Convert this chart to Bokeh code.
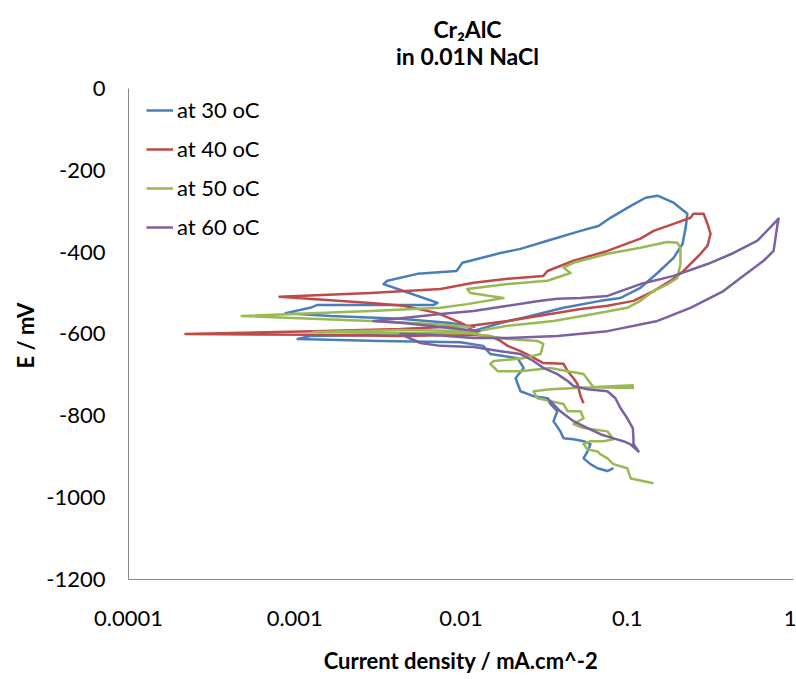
from bokeh.plotting import figure
from bokeh.models import (Range1d, FixedTicker, CustomJSTickFormatter, Legend,
                          LegendItem, Label, Title)
from bokeh.embed import file_html
from bokeh.resources import INLINE

# ---- data (current density in mA/cm^2, potential in mV) ----
blue_i = [0.0826, 0.0760, 0.0662, 0.0601, 0.0546, 0.0577, 0.0601, 0.0546, 0.0475, 0.0414,
          0.0396, 0.0360, 0.0380, 0.0345, 0.0331, 0.0273, 0.0228, 0.0213, 0.0238, 0.0219,
          0.0150, 0.0136, 0.00993, 0.00328, 0.00104, 0.00124, 0.00432, 0.0114, 0.0173, 0.0262,
          0.0414, 0.0690, 0.0910, 0.120, 0.152, 0.190, 0.215, 0.224, 0.230, 0.190,
          0.152, 0.129, 0.105, 0.0792, 0.0671, 0.0524, 0.0331, 0.0228, 0.0173, 0.0102,
          0.00940, 0.00547, 0.00361, 0.00342, 0.00451, 0.00723, 0.00684, 0.00137, 0.00124, 0.000879,
          0.00164, 0.00432, 0.00865, 0.0122]
blue_E = [-928, -935, -928, -918, -904, -887, -869, -862, -857, -855,
          -838, -813, -789, -771, -757, -752, -740, -708, -683, -659,
          -649, -629, -620, -617, -612, -605, -602, -595, -573, -556,
          -536, -519, -512, -487, -451, -414, -380, -343, -306, -279,
          -262, -267, -287, -316, -336, -348, -372, -392, -402, -426,
          -446, -453, -470, -478, -495, -524, -529, -529, -536, -549,
          -556, -563, -573, -583]

red_i = [0.0546, 0.0524, 0.0502, 0.0475, 0.0438, 0.0414, 0.0313, 0.0262, 0.0228, 0.0191,
         0.0173, 0.0150, 0.0114, 0.00432, 0.00130, 0.000220, 0.00130, 0.00432, 0.0114, 0.0191,
         0.0345, 0.0524, 0.0760, 0.109, 0.144, 0.190, 0.218, 0.276, 0.304, 0.317,
         0.304, 0.288, 0.250, 0.240, 0.190, 0.144, 0.120, 0.0760, 0.0475, 0.0331,
         0.0313, 0.0191, 0.0119, 0.00753, 0.00286, 0.000809, 0.00286, 0.00451, 0.00723, 0.0104,
         0.0127]
red_E = [-769, -752, -722, -708, -691, -673, -671, -654, -642, -629,
         -617, -605, -602, -605, -602, -600, -593, -588, -580, -568,
         -551, -539, -531, -519, -495, -465, -446, -404, -384, -355,
         -331, -306, -306, -316, -331, -348, -367, -397, -421, -446,
         -458, -465, -475, -490, -500, -509, -524, -531, -549, -576,
         -600]

green_i = [0.144, 0.105, 0.100, 0.0826, 0.0760, 0.0690, 0.0662, 0.0577, 0.0546, 0.0601,
           0.0719, 0.0826, 0.0760, 0.0546, 0.0475, 0.0546, 0.0524, 0.0438, 0.0414, 0.0345,
           0.0288, 0.0273, 0.0345, 0.108, 0.108, 0.0627, 0.0546, 0.0438, 0.0345, 0.0228,
           0.0166, 0.0150, 0.0157, 0.0238, 0.0301, 0.0313, 0.0288, 0.0191, 0.0144, 0.0114,
           0.00432, 0.00130, 0.00432, 0.0126, 0.0191, 0.0360, 0.0627, 0.100, 0.120, 0.144,
           0.175, 0.200, 0.209, 0.209, 0.200, 0.175, 0.165, 0.120, 0.0760, 0.0475,
           0.0414, 0.0456, 0.0331, 0.0191, 0.0109, 0.0114, 0.0180, 0.0109, 0.00753, 0.00286,
           0.000479, 0.00286, 0.00723, 0.0114]
green_E = [-965, -953, -928, -918, -904, -894, -887, -882, -869, -862,
           -862, -857, -838, -830, -820, -806, -789, -789, -771, -764,
           -757, -740, -735, -725, -732, -730, -698, -691, -683, -691,
           -691, -673, -666, -659, -649, -624, -617, -612, -605, -598,
           -598, -595, -590, -593, -580, -568, -551, -536, -519, -495,
           -478, -463, -429, -389, -377, -375, -377, -389, -404, -426,
           -438, -451, -470, -478, -490, -500, -512, -527, -536, -544,
           -556, -568, -576, -583]

purple_i = [0.0331, 0.0396, 0.0475, 0.0577, 0.0690, 0.0826, 0.0948, 0.104, 0.117, 0.109,
            0.109, 0.108, 0.100, 0.0910, 0.0849, 0.0760, 0.0577, 0.0475, 0.0438, 0.0380,
            0.0313, 0.0273, 0.0228, 0.0173, 0.0119, 0.00753, 0.00570, 0.00432, 0.00657, 0.0119,
            0.0191, 0.0380, 0.0760, 0.152, 0.240, 0.379, 0.480, 0.661, 0.759, 0.802,
            0.813, 0.759, 0.607, 0.436, 0.304, 0.190, 0.120, 0.0760, 0.0524, 0.0380,
            0.0301, 0.0191, 0.0119, 0.00753, 0.00451, 0.00298, 0.00451, 0.00753, 0.0131]
purple_E = [-757, -789, -813, -830, -845, -855, -862, -869, -887, -869,
            -855, -830, -806, -781, -757, -740, -735, -727, -715, -698,
            -683, -666, -649, -642, -632, -629, -622, -600, -602, -610,
            -610, -605, -593, -568, -536, -495, -463, -421, -397, -331,
            -318, -331, -372, -402, -429, -458, -478, -507, -512, -514,
            -519, -531, -544, -551, -561, -568, -573, -583, -593]

series_names = ["at 30 oC", "at 40 oC", "at 50 oC", "at 60 oC"]
x_ticks = [0.0001, 0.001, 0.01, 0.1, 1]
y_ticks = [-1200, -1000, -800, -600, -400, -200, 0]
title_lines = ["Cr₂AlC", "in 0.01N NaCl"]
x_title = "Current density / mA.cm^-2"
y_title = "E / mV"

# ---- styling ----
FONT = "Lato"
colors = ["#4A7EBB", "#BE4B48", "#98B954", "#7D60A0"]
Y_TOP = 215.07   # extra room above 0 mV where the title sits (88 px)

p = figure(width=796, height=679, x_axis_type="log",
           x_range=Range1d(1e-4, 1), y_range=Range1d(-1200, Y_TOP),
           output_backend="svg", toolbar_location=None, title=None,
           min_border_left=128, min_border_right=3, min_border_top=0,
           min_border_bottom=100)
p.outline_line_color = None
p.xgrid.visible = False
p.ygrid.visible = False
p.background_fill_color = "white"
p.border_fill_color = "white"

for ax in (p.xaxis[0], p.yaxis[0]):
    ax.axis_line_color = "#868686"
    ax.axis_line_width = 1
    ax.major_tick_out = 0
    ax.major_tick_in = 0
    ax.minor_tick_out = 0
    ax.minor_tick_in = 0
    ax.major_label_text_font = FONT
    ax.major_label_text_font_size = "22px"
    ax.major_label_text_color = "#000000"
    ax.axis_label_text_font = FONT
    ax.axis_label_text_font_size = "22px"
    ax.axis_label_text_font_style = "bold"
    ax.axis_label_text_color = "#000000"

p.xaxis.ticker = FixedTicker(ticks=x_ticks)
p.xaxis.formatter = CustomJSTickFormatter(code="return tick.toString();")
p.xaxis.major_label_standoff = 31
p.xaxis.axis_label = x_title
p.xaxis.axis_label_standoff = 18

p.yaxis.ticker = FixedTicker(ticks=y_ticks)
p.yaxis.formatter = CustomJSTickFormatter(code="return tick.toString();")
p.yaxis.bounds = (y_ticks[0], y_ticks[-1])
p.yaxis.major_label_standoff = 23

# y-axis title as a left-side title, placed along the 0..-1200 span
p.add_layout(Title(text=y_title, align="left", offset=211, standoff=10,
                   text_font=FONT, text_font_style="bold", text_font_size="22px",
                   text_color="#000000"), "left")

data = [(blue_i, blue_E), (red_i, red_E), (green_i, green_E), (purple_i, purple_E)]
items = []
for (xs, ys), c, name in zip(data, colors, series_names):
    r = p.line(xs, ys, line_color=c, line_width=2.5, line_join="round")
    items.append(LegendItem(label=name, renderers=[r]))

legend = Legend(items=items, location=(18, 339), border_line_color=None,
                background_fill_alpha=0, padding=0, margin=0, spacing=12,
                glyph_width=27, glyph_height=20, label_height=20,
                label_standoff=4, label_text_font=FONT,
                label_text_font_size="22px", label_text_color="#000000")
p.add_layout(legend, "center")

for txt, ypos in zip(title_lines, (551, 524)):
    p.add_layout(Label(x=339, y=ypos, x_units="screen", y_units="screen",
                       text=txt, text_align="center", text_baseline="alphabetic",
                       text_font=FONT, text_font_style="bold", text_font_size="23px",
                       text_color="#000000"))

open("out.html", "w").write(file_html(p, INLINE))
